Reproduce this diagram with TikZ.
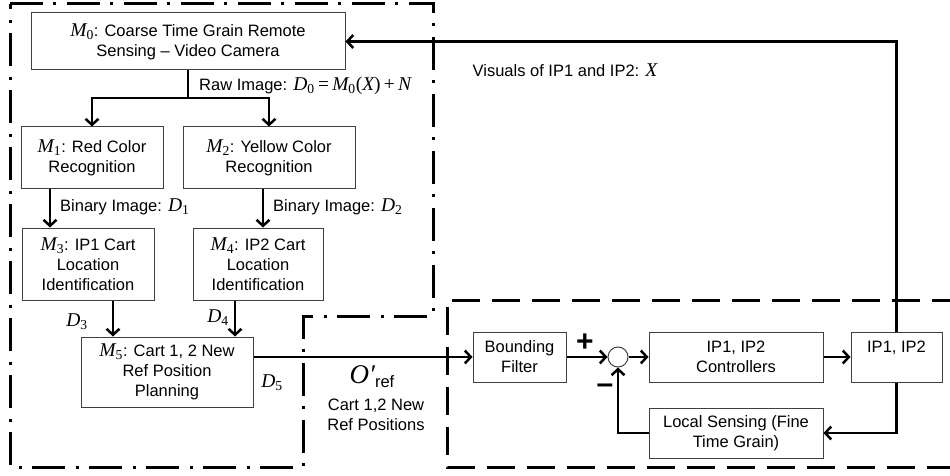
\documentclass[tikz,border=0pt]{standalone}
\usepackage{fontspec}
\setmainfont{Liberation Sans}
\newfontfamily\tmsf{Liberation Serif}
\usetikzlibrary{arrows.meta}
\newcommand\mfs{\fontsize{19.5}{20}\selectfont}
\newcommand\mvar[1]{{\tmsf\mfs\itshape #1}}
\newcommand\mup[1]{{\tmsf\mfs #1}}
\newcommand\msub[2]{{\tmsf\mfs\itshape #1\textsubscript{\upshape #2}}}
\begin{document}
\begin{tikzpicture}[x=1pt,y=-1pt,
  box/.style={draw=black!75, line width=1pt, align=center, inner sep=1pt,
    font=\fontsize{16.5}{20}\selectfont},
  lbl/.style={inner sep=0pt, font=\fontsize{16.5}{20}\selectfont},
  arr/.style={line width=2.7pt, -{Straight Barb[length=6pt,width=13pt,line width=2.5pt]}},
  conn/.style={line width=2.7pt},
  dashdotreg/.style={line width=3pt, dash pattern=on 33pt off 10pt on 3pt off 11pt},
  dashreg/.style={line width=3pt, dash pattern=on 28pt off 12pt}]
\useasboundingbox (0,0) rectangle (950,476);

% regions
\draw[dashdotreg] (10,4) -- (433,4) -- (433,316) -- (303,316) -- (303,467) -- (10,467) -- cycle;
\draw[dashreg] (960,300) -- (447,300) -- (447,467) -- (960,467);

% boxes
\node[box, minimum width=314pt, minimum height=57pt] (M0) at (188,41.5)
  {\msub{M}{0}: Coarse Time Grain Remote\\Sensing -- Video Camera};
\node[box, minimum width=142pt, minimum height=61pt] (M1) at (92,157.5)
  {\msub{M}{1}: Red Color\\Recognition};
\node[box, minimum width=172pt, minimum height=61pt] (M2) at (269,157.5)
  {\msub{M}{2}: Yellow Color\\Recognition};
\node[box, minimum width=132pt, minimum height=72pt] (M3) at (88,264)
  {\msub{M}{3}: IP1 Cart\\Location\\Identification};
\node[box, minimum width=130pt, minimum height=72pt] (M4) at (258,264)
  {\msub{M}{4}: IP2 Cart\\Location\\Identification};
\node[box, minimum width=172pt, minimum height=70pt] (M5) at (167,372)
  {\msub{M}{5}: Cart 1, 2 New\\Ref Position\\Planning};
\node[box, minimum width=93pt, minimum height=50pt] (BF) at (519.5,357)
  {Bounding\\Filter};
\node[draw=black!75, line width=1pt, circle, minimum size=20pt, inner sep=0pt] (S) at (618,357) {};
\node[box, minimum width=174pt, minimum height=50pt] (C) at (736,357)
  {IP1, IP2\\Controllers};
\node[box, minimum width=91pt, minimum height=50pt] (IP) at (896.5,357)
  {IP1, IP2\\[0pt]\phantom{X}};
\node[box, minimum width=174pt, minimum height=50pt] (LS) at (736,433)
  {Local Sensing (Fine\\Time Grain)};

% connectors
\coordinate (sp) at (188,98);
\draw[conn] (M0.south) -- (sp);
\draw[arr] (sp) -| (M1.north);
\draw[arr] (sp) -| (M2.north);
\draw[arr] ([xshift=-42pt]M1.south) -- ([xshift=-42pt]M1.south |- M3.north);
\draw[arr] ([xshift=-6pt]M2.south) -- ([xshift=-6pt]M2.south |- M4.north);
\draw[arr] ([xshift=25pt]M3.south) -- ([xshift=25pt]M3.south |- M5.north);
\draw[arr] ([xshift=-23pt]M4.south) -- ([xshift=-23pt]M4.south |- M5.north);
\draw[arr] (M5.east |- BF.west) -- (BF.west);
\draw[arr] (BF.east) -- (S.west);
\draw[arr] (S.east) -- (C.west);
\draw[arr] (C.east) -- (IP.west);
\draw[arr] (IP.north) |- (M0.east);
\draw[arr] (IP.south) |- (LS.east);
\draw[arr] (LS.west) -| (S.south);

% labels
\node[lbl] (lvis) at (565,70) {Visuals of IP1 and IP2: \mvar{X}};
\node[lbl, anchor=west] (lraw) at (199,86)
  {Raw Image: \msub{D}{0}\mup{\,=\,}\msub{M}{0}\mup{(}\mvar{X}\mup{)\,+\,}\mvar{N}};
\node[lbl, anchor=west] (lb1) at (60,207) {Binary Image: \msub{D}{1}};
\node[lbl, anchor=west] (lb2) at (273,207) {Binary Image: \msub{D}{2}};
\node[lbl] (ld3) at (77,322) {\msub{D}{3}};
\node[lbl] (ld4) at (218,318) {\msub{D}{4}};
\node[lbl] (ld5) at (272,383) {\msub{D}{5}};
\node[lbl] (lo) at (372,377) {{\tmsf\itshape\fontsize{27}{27}\selectfont O′}\raisebox{-4pt}{ref}};
\node[lbl, align=center] (lcart) at (376,415) {Cart 1,2 New\\Ref Positions};
\node[lbl, font=\bfseries\fontsize{30}{30}\selectfont] (lplus) at (585,343) {+};
\node[lbl, font=\bfseries\fontsize{30}{30}\selectfont] (lminus) at (605,389) {\textendash};
\end{tikzpicture}
\end{document}
